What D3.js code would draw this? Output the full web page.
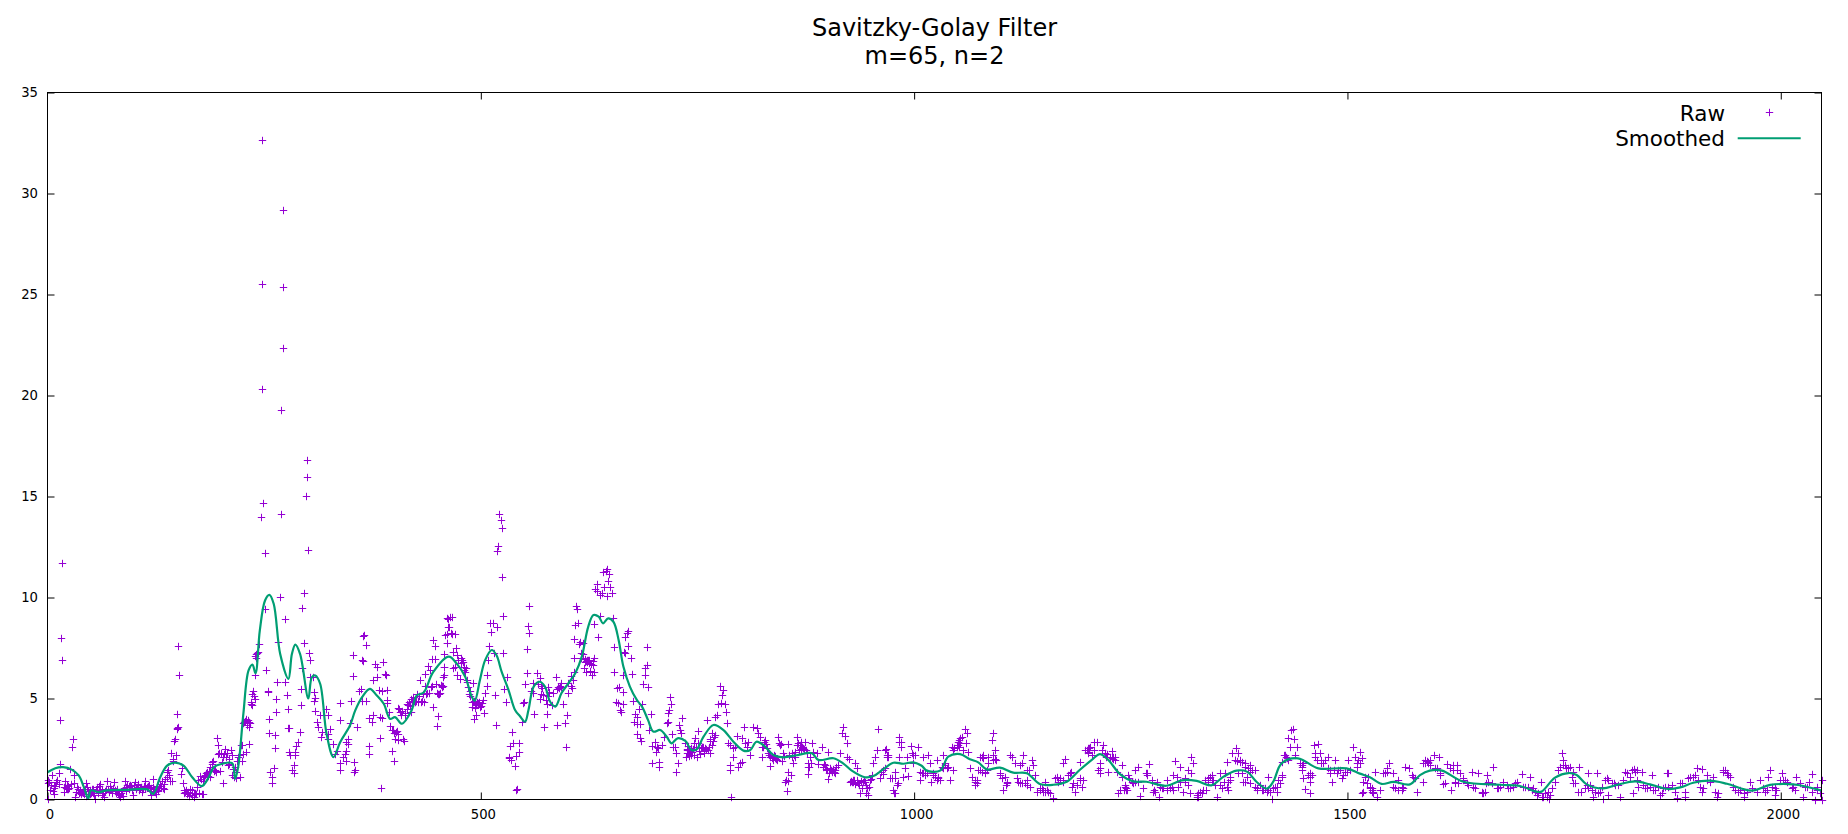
<!DOCTYPE html>
<html><head><meta charset="utf-8">
<script src="https://cdn.jsdelivr.net/npm/d3@7"></script>
<style>html,body{margin:0;padding:0;background:#fff}svg{display:block}text{font-family:"DejaVu Sans";fill:#000}</style>
</head><body><svg id="c" width="1848" height="834"></svg>
<script>
const titleLines=["Savitzky-Golay Filter","m=65, n=2"];
const seriesNames=["Raw","Smoothed"];
const xTicks=[0,500,1000,1500,2000];
const yTicks=[0,5,10,15,20,25,30,35];
const smoothed=[[0,1.35],[9,1.55],[18,1.6],[28,1.48],[36,1.19],[42,.61],[47,.05],[50,.45],[59,.36],[68,.45],[92,.48],[115,.5],[122,.28],[130,1.1],[138,1.68],[147,1.83],[157,1.68],[167,1.1],[178,.66],[186,1.1],[192,1.6],[201,1.76],[213,1.8],[216.5,1.02],[220,1.6],[226,4.24],[232,6.39],[236.5,6.68],[240,6.25],[245,8.37],[251,9.85],[256,10.13],[261,9.69],[268.5,7.2],[278,5.97],[282,7.2],[286,7.67],[291.5,7.2],[301,5],[305,6.05],[309,6.14],[314.6,5.73],[322,3.25],[330,2.1],[337.7,2.84],[349,3.66],[355,4.4],[363,5.07],[372,5.48],[380,5.15],[388,4.74],[395.4,3.99],[401,4.08],[409,3.75],[420,4.4],[426,5.15],[434,5.3],[445,6.3],[463,7.07],[472,6.74],[482,6.08],[489.5,5.09],[493,4.89],[499,5.92],[505,6.9],[512.6,7.4],[518,7.15],[524,6.33],[532,5.42],[539.5,4.43],[545,4.13],[551,3.85],[555,4.43],[561,5.59],[568,5.83],[574,5.59],[580,4.84],[586,4.6],[593,5.26],[601,5.75],[609,6.25],[616.5,7.07],[624,8.56],[630,9.13],[636,9.05],[641,8.72],[647,8.97],[653,8.8],[659,7.9],[664.5,6.58],[672,5.59],[680,4.93],[686,4.6],[693,3.93],[699,3.36],[707,3.44],[714.5,3.11],[720,2.78],[727,3.03],[736,2.9],[743,2.45],[749,2.48],[757,3.11],[768.4,3.69],[780,3.44],[791.5,2.86],[803,2.42],[811,2.45],[818,2.86],[828,2.62],[837.6,2.2],[849,2.09],[864.5,2.19],[882,2.29],[889.5,1.96],[907,2.04],[918,1.79],[928,1.43],[943,1.1],[953,1.16],[964.5,1.5],[976,1.82],[987.5,1.77],[999,1.84],[1008.7,1.67],[1014.5,1.43],[1030,1.43],[1039.4,2.12],[1053,2.25],[1064.4,1.99],[1074,1.84],[1083.7,1.49],[1099,1.58],[1114.4,1.33],[1130,1.3],[1145,.77],[1160.6,.73],[1176,.88],[1191,1.46],[1205,1.96],[1214.4,2.25],[1224,1.96],[1237.5,1.26],[1253,.9],[1268,.88],[1291,.68],[1308.7,.95],[1326,.92],[1343,.7],[1357,1.13],[1372,1.43],[1384,1.38],[1395,.88],[1407,.54],[1414.4,.88],[1424,1.79],[1443,2.04],[1466.4,1.54],[1499,1.54],[1514.4,1.28],[1526,1.1],[1539.5,.77],[1553,.87],[1572,.75],[1583.7,1.21],[1595,1.43],[1609,1.43],[1634,.88],[1676,.73],[1699,.67],[1718,.39],[1724,.39],[1739.5,1.08],[1755,1.31],[1764.5,1.21],[1776,.75],[1795,.55],[1810.6,.72],[1832,.9],[1849,.75],[1870,.52],[1884,.6],[1899,.83],[1918,.93],[1938,.78],[1966.4,.44],[1987.6,.72],[2014.5,.75],[2030,.63],[2047,.44]];
const rawPeaks=[[248,32.67],[271.5,29.16],[247,25.53],[271.5,25.35],[272,22.33],[248,20.3],[270,19.26],[299,16.8],[300,15.96],[298,15.02],[301,12.34],[249,14.67],[246,13.98],[269,14.13],[250.5,12.2],[17,11.7],[16,7.99],[17,6.9],[15,3.94],[268,10.02],[296.5,10.2],[294,9.47],[251.5,9.44],[273.5,8.93],[295.4,7.74],[244.6,7.72],[266.5,7.82],[242,7.24],[241,7.18],[241,7],[301.5,7.26],[302.7,6.9],[252.7,6.4],[239,6.14],[294,6.5],[302.7,6.06],[306,6.06],[255,5.31],[254,5.35],[237,5.35],[238,5.12],[264,4.97],[274.6,5.81],[265,5.81],[275.8,5.15],[293,5.46],[308,5.31],[309,5.02],[308,4.87],[235,4.74],[236,4.7],[292,4.67],[277,4.47],[264,4.32],[256,3.98],[229,3.99],[228,3.88],[232,3.83],[234,3.78],[226,3.78],[232,3.58],[278,3.55],[279,3.52],[256,3.28],[263,3.18],[291,3.33],[289.6,2.84],[287,2.64],[286,2.34],[286,2.18],[279,2.34],[280,2.18],[262,2.54],[232,2.74],[225,2.69],[221.5,2.18],[226,2.23],[229.6,2.34],[225,1.93],[222,1.1],[261,1.57],[257,1.35],[259.6,1.1],[258.5,.81],[285,1.73],[282.7,1.44],[284,1.3]];
const rawLow=[[0,.99],[0,.83],[0,.02],[2,.86],[3,.45],[7,.28],[5,1.19],[8,.69],[8,.55],[10,.86],[11.5,.97],[12.7,1.3],[14,1.77],[20,.94],[18.5,.36],[21.5,.58],[23.5,.53],[24,.69],[22,.7],[26,1.52],[28,2.59],[29,3],[31,1.19],[31,.81],[32,.12],[34,.64],[37,.45],[39,.28],[38,.35],[40,.38],[44.6,.81],[41.5,.36],[46,.61],[48.5,.45],[53,.53],[55,.03],[59,.69],[60.8,.78],[62.7,.2],[65,.12],[69,.94],[67.7,.53],[71.5,.36],[73,.5],[75,.33],[77,.89],[78,.45],[81,.28],[83,.3],[84,.12],[86,.4],[89.6,.94],[90.8,.61],[93.5,.69],[95,.72],[97,.55],[99,.2],[101,.86],[103,.64],[105,.7],[107,.55],[109,.36],[112.7,.94],[114.6,.61],[117,.7],[120,.2],[121.5,1.02],[122,.6],[124,.36],[126,.65],[128,.45],[132,.94],[134,.78],[135,.5],[137.7,1.35],[139.6,1.44],[143.5,.94],[142.7,2.29],[144.6,2.01],[146.5,2.89],[147,3],[149,3.55],[151,3.58],[150,3.5],[149,4.22],[151,7.59],[152,6.14],[154,1.27],[155,1.57],[156,.81],[159,.36],[161,.28],[160,.45],[164.6,.53],[166.5,.45],[168.5,.12],[170,.3],[172,.61],[176,1.14],[180,.28],[182,1.19],[184.6,1.35],[187,1.1],[189.6,1.77],[191.5,1.9],[193.5,1.44],[196,3.05],[197,2.72],[196.5,2.26],[199,1.4],[202,.81],[205,2.5],[207,2.29],[209,1.77],[211.5,2.46],[212.7,2.18],[216,1.6],[217.7,1.35],[204,2.25],[206,2.1]];
const rawLowDense=[[4,.7],[6,.4],[9,.65],[13,.75],[19,.62],[22,.5],[25,.55],[27,.75],[33,.35],[35,.5],[36,.3],[42,.25],[43,.5],[45,.15],[47,.4],[49,.25],[50,.3],[51,.5],[52,.3],[54,.2],[56,.45],[57,.6],[58,.3],[61,.45],[63,.5],[64,.3],[66,.4],[70,.5],[72,.65],[74,.4],[76,.55],[79,.3],[80,.5],[82,.2],[85,.3],[87,.15],[88,.55],[91,.4],[92,.7],[94,.5],[96,.65],[98,.45],[100,.7],[102,.5],[104,.75],[106,.45],[108,.6],[110,.5],[111,.65],[113,.55],[116,.65],[118,.4],[119,.55],[123,.5],[125,.25],[127,.4],[129,.55],[130,.75],[131,.65],[133,.55],[136,1],[138,1.1],[140,1.2],[141,.9],[145,1.9],[148,2.2],[157,.45],[158,.3],[162,.35],[163,.15],[165,.3],[167,.2],[169,.3],[171,.25],[173,.6],[174,.95],[175,.3],[177,1],[178,.25],[179,.9],[181,1.1],[183,1.3],[185,1.15],[186,1.4],[188,1.6],[190,1.85],[192,1.4],[194,1.35],[198,2.3],[200,2.3],[201,1.85],[203,2.1],[208,1.7],[210,2],[213,1.2],[214,1.5],[215,1.1],[218,1.05],[219,1.9],[220,2.1],[223,2.7],[230,3.7],[231,3.95],[233,3.8],[227,3.85],[240,7.1],[243,7.3],[236,5.2],[239,5],[235,4.85]];
const rawRise=[[337.7,4.77],[337.7,3.94],[324,4.16],[321.5,4.49],[314.6,4.16],[309,4.4],[311,3.83],[312.7,3.58],[316.5,3.33],[315.4,3.09],[326,3.5],[324,3.25],[324,3],[330,2.76],[332,2.26],[334,2.39],[337.7,1.8],[337,1.44],[345,2.39],[343.5,2.26],[341,2.1],[345,1.93],[345,2.84],[347,3],[347,2.76],[348.5,3.78],[354,1.85],[355,1.47],[354,1.35],[357,3.58],[350,4.87],[353,6.09],[352,7.13],[363,6.91],[363.5,6.85],[364.6,8.07],[365.4,8.12],[367,7.67],[361.5,5.48],[359,5.36],[362.7,4.9],[368,4.87],[371.5,4.04],[374,3.83],[370.4,2.66],[370.4,2.23],[376,4.2],[378,6.72],[380,6.55],[376,5.92],[380,6.06],[387.7,6.8],[389.6,6.22],[390.4,6.14],[382,5.4],[385.8,5.36],[391.5,5.43],[391.5,4.93],[391.5,4.77],[393.5,4.32],[383.8,4.08],[386.5,4.04],[383.8,3.04],[384.6,.56],[395.4,3.66],[397,3.42],[399,3.45],[398,2.39],[400,1.93],[401,3],[405,3.25],[411,2.92],[405,4.54],[407,4.32],[414.6,4.49],[412.7,4.16],[420,4.32],[418.5,4.65],[422,5.07],[426,5.23],[432,4.9],[434,4.82],[430,5.92],[435.8,5.64],[439.6,6.6],[441.5,6.39],[443.5,6.96],[447,6.96],[445,4.57],[449,3.66],[450.4,4.12],[445,7.9],[446.6,7.59],[451,5.23],[455,5.64],[453,5.26],[457,6.14],[458,6.55],[460.8,7.74],[460.8,8.17],[462.7,8.53],[466.5,8.2],[462.7,8.94],[466.5,9.03],[467.7,7.29],[470,6.55],[473,6.14],[473,7.13],[464.5,9.05],[461.5,8.97],[463.8,8.56],[466,8.23],[459,8.14],[460.7,7.73],[457.6,7.2],[467.6,7.29],[476.8,6.99],[479,6.82],[480.7,6.41],[483,6.49],[468.4,6.49],[472,6.16],[476,5.95],[458,6.54],[456.8,6.08],[455,5.62]];
const rawRiseDense=[[400,3.3],[402,3.35],[403,3.4],[404,2.95],[406,4.5],[408,4.2],[409,4.4],[410,3],[413,4.3],[415,4.75],[416,4.7],[417,4.85],[419,5],[421,4.9],[423,4.9],[424,4.85],[425,4.88],[427,4.9],[428,4.85],[429,5.1],[431,4.85],[433,5.2],[436,6.2],[437,5.2],[438,5.25],[440,5.25],[442,5.55],[444,5.6],[448,5.7],[450,5.25],[452,5.2],[470,8.2],[471,7.5],[474,6.9],[477,6.75],[478,6.9],[481,6.55],[482,6.3],[484,5.9],[486,5.2],[487,5.35],[488,5.1],[491,4.85],[492,4.9],[493,4.55],[494,4.7],[495,4.75],[496,4.85],[500,4.65],[454,5.65],[455,5.55],[456,5.6]];
const rawMiddle=[[483.8,5.83],[485.7,5.59],[491.5,5.78],[489.5,4.84],[490,4.6],[497,4.76],[499,4.6],[501,4.79],[503,4.93],[498,4.85],[495,4.18],[492.6,3.97],[504,4.27],[505,5.26],[507,5.62],[507.6,6.16],[508.8,6.9],[510,7.6],[510.7,8.72],[511.5,8.31],[513.8,8.75],[518.4,8.56],[515.7,7.27],[526,7.27],[530,6.08],[527,5.45],[516.8,5.17],[529,4.81],[517.6,3.67],[521.5,14.13],[523,13.84],[524,13.42],[520.3,12.57],[519,12.32],[525,11],[526,9.08],[556,9.58],[555,8.59],[556,8.26],[553.8,7.43],[553,6.25],[551,5.72],[560.7,5.75],[564.5,6.25],[568.4,6],[566.5,5.72],[557.6,5.39],[560.7,5.26],[568.4,5],[572,5.17],[577,5.59],[576,4.73],[582,4.68],[583.8,5.26],[586.8,6.08],[589.5,5.59],[593,5.75],[594.5,4.73],[601,5.75],[603.8,6.11],[606.8,5.92],[605,5.5],[601,5.26],[550,4.84],[548.4,4.79],[561.8,4.22],[576,4.22],[547,3.85],[573.4,3.6],[587.6,3.67],[597,3.77],[600,4.18],[598.4,2.58],[536.5,3.33],[537.6,2.78],[544.5,2.78],[533.8,2.65],[544,2.37],[540.7,2.15],[532,2.12],[534.5,1.96],[533,2.05],[540,1.67],[541.5,.52],[540.7,.47],[610,9.58],[611.5,9.41],[608.8,8.64],[612.6,8.72],[608,7.93],[614.5,7.78],[617.6,7.76],[615.3,7.27],[608,7.02],[618.4,7.2],[620.3,6.82],[624,6.91],[631,6.99],[622,6.91],[625.3,6.74],[629,6.66],[621.5,6.33],[626,6.38],[630.7,6.33],[628,6.16],[635.7,8.03],[631,8.67],[637.6,9.08],[653,8.97],[633.8,10.67],[631.8,10.42],[633.8,10.34],[641.5,11.28],[644,11.33],[646,11.39],[648.4,11.16],[647,10.83],[642,10.53],[649,10.5],[640.3,10.21],[637.6,10.12],[645.3,10.07],[651,10.2],[620,6.95],[621,6.85],[623,6.8],[625,6.9],[627,6.7],[629,6.85],[613,7.7],[616,7],[619,6.5],[604,5.6],[607,6.3],[590,5.5],[591,5.6],[592,5.55],[588,5.45],[570,5.6],[571,5.5],[569,5.2],[578,5.1],[579,5.3],[575,4.95]];
const rawFall=[[654,7.57],[670.3,8.36],[668.4,8.26],[666.5,8.06],[670.3,7.62],[665.7,7.3],[666.5,7.24],[673,7.02],[663.8,6.16],[654,6.3],[674,6.21],[656.8,5.5],[659,5.59],[663.8,5.34],[656,4.84],[658.8,4.76],[663.8,4.73],[660.7,4.43],[661.8,4.35],[676,4.88],[682.6,4.46],[678,4.22],[680,4.1],[676.8,3.85],[680,3.72],[683.8,3.72],[680.7,3.24],[683.8,3.03],[685,2.91],[691.5,7.53],[692,6.66],[690,6.49],[689.5,6.16],[687.6,5.72],[693.4,5.55],[686.5,4.73],[696,4.22],[694.5,3.44],[697,2.65],[701,2.86],[703,2.62],[705,2.53],[708.8,2.7],[702,2.37],[698,1.79],[706,1.87],[706,1.59],[711.5,3.11],[714.5,3.77],[715.7,3.85],[718.4,5.06],[720,4.73],[717,4.43],[716.5,4.27],[721,3.24],[722,2.62],[724,2.62],[725,2.29],[727,1.79],[725,1.35],[732,4.02],[728.8,3.69],[730,3.44],[730.7,3.28],[735.7,2.78],[737.6,2.45],[739.5,2.29],[740.7,2.15],[736.8,2.12],[738,2.3],[747,3.03],[746,2.78],[751,3.41],[751,2.78],[749,2.12],[755,2.62],[759,2.53],[760.7,3.93],[757,2.29],[764.5,2.32],[766.5,3.28],[770.3,3.19],[766.5,2.7],[770.7,4.1],[772,4.18],[774,4.73],[776,5.63],[780,5.42],[778,5.17],[777,4.79],[782,4.73],[783,4.31],[783.8,3.77],[788.4,.14],[785.7,2.78],[787.6,2.7],[791.5,2.53],[793.4,2.62],[791.5,2.12],[787.6,1.71],[787.6,1.46],[797,1.63],[799,1.79],[801,1.87],[795.3,3.14],[801.8,3.03],[805,2.78],[807,2.62],[808.8,2.86],[803.8,3.57],[813.8,3.6],[818.4,3.52],[820,3.28],[822,3.11],[810.7,2.2],[824,2.62],[828,2.94],[825,2.12],[832,2.2],[835.7,2.04],[839.5,2.04],[833.8,1.66],[843.4,3.11],[845,2.7],[855,2.75],[851,.88],[853,.44],[855,1.38],[857.6,1.21],[858.8,2.29],[860.7,1.79],[865,3.08],[864.5,2.7],[870,2.86],[872,2.53],[874,2.86],[882,2.78],[878,1.79],[878,1.25],[883.8,2.37],[887.6,2.29],[893.4,2.62],[889.5,1.74],[897,1.71],[901,2.37],[900.3,1],[905,1.38],[908.8,1.46],[912.6,1.71],[916.5,3.28],[918.4,3.57],[920,3.14],[922,2.78],[914.5,2.29],[922,2.12],[925,1.99],[932,1.79],[933.8,1.54],[926,.88],[930,.88],[933.8,.97],[938,.31],[943.4,.88],[945,.31],[947,.22],[953,1.79],[955,2.12],[957,2.45],[958,3.47],[960.7,1.05],[964.5,1.46],[968.4,2.12],[967.6,2.48],[970.3,2.2],[974,1.05],[976,.47],[978,.31],[982,3.11],[983,2.86],[982,2.12],[980.7,.72]];
const rawFallDense=[[738,2.5],[739,2.65],[741,2.4],[742,2.55],[743,2.2],[744,2.35],[745,2.5],[746,2.2],[748,2.6],[752,2.4],[753,2.25],[754,2.55],[756,2.6],[758,2.4],[760,2.5],[762,2.45],[763,2.6],[764,2.9],[765,3],[768,2.9],[769,3.1],[826,2.6],[827,2.85],[829,2.75],[830,2.55],[831,2.3],[834,2.1],[836,2.15],[837,1.95],[838,2.2],[840,2.15],[841,2],[842,1.95],[844,2.8],[846,2.75],[847,1.9],[849,2.3],[850,2.15],[852,.95],[854,.9],[856,2.2],[859,2.1],[861,2.2],[862,2.1],[863,2.35],[866,2.8],[867,2.45],[868,2.7],[869,2.5],[871,2.6],[873,2.5],[875,2.45],[876,2.3],[877,1.6],[879,1.6],[880,2.1],[881,1.8],[895,1.6],[896,1.75],[898,1.5],[899,1.45],[902,1.3],[903,1.55],[904,1.45],[906,1.5],[907,1.35],[909,1.3],[910,1.6],[927,.9],[928,.85],[929,.95],[931,.95],[932,.75],[935,.8],[936,.7],[939,.9],[940,.55],[941,.85],[942,.95],[944,.7],[946,.55],[948,.6],[949,.95],[950,1],[951,1.2]];
const rawTailA=[[984.4,2.86],[984.4,2.62],[996,2.65],[1005,2.62],[969,2.2],[966.4,2.45],[991.4,2.12],[997,2.29],[1001,2.2],[1016.4,2.2],[1010.6,2.12],[1026,1.96],[1033.7,2.2],[1035.6,1.79],[1032,1.63],[1039.4,1.63],[1018.3,1.79],[989.4,1.54],[978,1.38],[1006.7,1.38],[1010.6,1.3],[966.4,1.54],[972,1.05],[978,1.05],[981.8,.8],[976.8,.31],[987.5,1.13],[993.3,1.16],[1006.7,.97],[1012.5,1.3],[1020,.88],[1022,1.21],[1028,1.05],[1041.4,.97],[1044.4,1.46],[1043.3,2.62],[1045,2.45],[1049,2.7],[1051,2.86],[1053,3.03],[1052,2.62],[1058.7,3.47],[1060.6,3.28],[1060,2.78],[1062.5,2.37],[1078,2.12],[1080,2.2],[1064.4,1.54],[1066.4,1.13],[1072,.97],[1070,.72],[1076,1.46],[1081.7,1.38],[1085.6,2.12],[1089.4,2.95],[1091.4,3.28],[1093.3,2.45],[1091.4,2.2],[1095,1.96],[1085.6,1.79],[1099,1.3],[1105,1.13],[1103,.47],[1106.8,.8],[1110.6,2.2],[1112.5,2.12],[1116.4,1.79],[1124,1.79],[1126,2.2],[1118.3,1.05],[1122,.8],[1130,.72],[1130,1.46],[1135.6,1.96],[1137.5,1.71],[1139.4,1.21],[1141.4,.39],[1145,.55],[1149,.39],[1151,.88],[1155,.39],[1160,.06],[1164.4,1.13],[1168.3,.97],[1172,.88],[1174,1.99],[1172,1.79],[1178,1.21],[1180.6,1.38],[1182,.64],[1185.6,.39],[1191.4,1.87],[1191.4,.97],[1195,.97],[1193.3,.64],[1197,2.45],[1201,2.53],[1203,2.62],[1207,2.86],[1210.6,2.86],[1205,2.2],[1201,2.29],[1218.3,2.7],[1216.4,2.45],[1228,2.42],[1222,2.25],[1230,2.12],[1231.8,1.96],[1214.4,1.54],[1214.4,1.3],[1224,1.38],[1239.4,1.71],[1233.7,1.38],[1239.4,1.13],[1247,1.21],[1237.5,.47],[1235.6,.31],[1243.3,.64],[1245,.47]];
const rawTailADense=[[962,1.38],[963.7,1.26],[970,2.12],[974,1.05],[999,2.2],[999,1.79],[1008.7,1.3],[1012.5,1.21],[1014.5,1.3],[1022,1.3],[1024,1.13],[1028,1.13],[1030,.97],[1026,.97],[1035.6,1.71],[1033.7,1.54],[1037.5,1.54],[1046,2.53],[1050,2.62],[1051,2.7],[1053,2.78],[1052,2.95],[1055,3.11],[1056.7,2.45],[1070,.88],[1072,.8],[1070,.97],[1074,1.46],[1078,1.38],[1081.7,1.3],[1083.7,1.46],[1076,2.12],[1080,2.04],[1093.3,1.99],[1091.4,1.96],[1099,1.21],[1101,1.05],[1106.8,.88],[1106,.72],[1120,.88],[1124,.8],[1128,.8],[1130,.97],[1122,1.71],[1132,1.46],[1133.7,.64],[1145,.47],[1147,.55],[1149,.47],[1151,.39],[1153,.47],[1157,.31],[1162.5,1.05],[1166.4,.88],[1168.3,1.05],[1171.4,.97],[1180,1.3],[1183.7,.8],[1187.5,.72],[1191.4,1.05],[1199,2.45],[1201,2.37],[1202,2.53],[1207,2.45],[1212.5,1.46],[1214.4,1.79],[1220,2.29],[1221.4,2.12],[1226,2.12],[1230,1.99],[1232,2.12],[1228,2.04],[1243.3,.72],[1244.4,.55],[1246,.47],[1242,.47],[1248.3,1.05],[1251,.88],[1255,.88],[1258.7,.88]];
const rawTailB=[[1255,1.46],[1258.7,1.63],[1253,.8],[1260.6,.19],[1264.4,.55],[1268.3,1.3],[1271.4,1.76],[1274,.97],[1276,.39],[1280,.88],[1283,.14],[1285.6,.55],[1291.4,.97],[1295,.55],[1301,1.9],[1299,1.21],[1303,1.13],[1307,1.63],[1312.5,1.05],[1310.6,.39],[1318.3,.31],[1316.4,1.46],[1320,2.12],[1322,1.79],[1320,1.3],[1326,.14],[1328,.31],[1333.7,.47],[1339.4,1.05],[1343.3,1.21],[1345,.97],[1350,.14],[1353,1.3],[1355,.55],[1358.7,1.3],[1362.5,.47],[1364.4,.97],[1360.6,1.87],[1366.4,2.29],[1371,2.53],[1374,2.29],[1370,1.96],[1376,1.96],[1381.7,1.79],[1387.5,1.71],[1393.3,1.46],[1374,1.3],[1380,.88],[1387.5,.8],[1395.2,.55],[1401,.47],[1408.7,1.13],[1408.7,.47],[1412.5,.03],[1416.4,.64],[1418.3,.39],[1424,1.21],[1422,.8],[1424,1.87],[1428,2.2],[1430.6,2.04],[1431.7,3.03],[1434.4,3.44],[1437.5,3.47],[1438.3,2.98],[1433.7,2.62],[1441.4,2.62],[1439.4,2.2],[1447,1.71],[1447,1.46],[1449,1.05],[1451,.5],[1456.8,1.3],[1456.8,.31],[1456.8,.88],[1462.5,2.12],[1461.7,2.7],[1465.6,2.73],[1468.3,2.29],[1470,1.79],[1478,2.12],[1474,1.96],[1485.6,1.96],[1480,1.3],[1481.8,.88],[1493.3,1.05],[1501,1.96],[1506,2.62],[1508.7,2.12],[1514.4,2.37],[1514.4,1.79],[1510.6,1.79],[1497,1.38],[1489.4,1.46],[1518.3,.88],[1518.3,.39],[1524,1.13],[1528,.55],[1530,.31],[1533.7,.14]];
const rawTailBDense=[[1267.5,1.3],[1268.3,1.21],[1274,.88],[1277,.47],[1278,.39],[1283.7,.64],[1287.5,.55],[1291.4,.47],[1297,.64],[1299,.47],[1305,.64],[1307,.88],[1312.5,.88],[1316.4,.72],[1326,.22],[1328,.14],[1330,.39],[1332,.31],[1335.6,.97],[1337,.47],[1341,1.13],[1343.3,.97],[1339.4,.88],[1347,.72],[1353,.72],[1357,.88],[1360.6,.64],[1362.5,.88],[1364.4,1.13],[1370,1.96],[1372,1.92],[1376,1.87],[1378,1.87],[1381.7,1.63],[1385.6,1.54],[1387.5,1.38],[1389.5,1.46],[1378,1.3],[1381.7,.88],[1383.7,1.13],[1393.3,.64],[1395.2,.47],[1399,.72],[1403,.47],[1405,.55],[1406.8,.39],[1410.6,.39],[1414.4,.55],[1418.3,.64],[1420,.97],[1424,1.13],[1426.8,2.2],[1429,2.12],[1431.7,1.96],[1445,1.79],[1447,1.63],[1449,1.79],[1456.8,1.13],[1455,1.21],[1458.7,1.21],[1462.5,2.29],[1464.4,1.96],[1470,1.96],[1472,1.79],[1478,1.54],[1480,1.46],[1484,1.46],[1487.5,1.3],[1491.4,1.46],[1495.2,1.21],[1503,1.46],[1499,1.38],[1510.6,1.63],[1512.5,1.96],[1520,1.13],[1526,.55],[1528,.39]];
const rawTailC=[[1516.4,2.04],[1522,.8],[1516.4,.34],[1526,.64],[1531.8,1.38],[1537.6,.47],[1543.3,1.3],[1545.3,1.54],[1548.3,1.79],[1552,1.33],[1553,.64],[1558.7,.97],[1562.6,.47],[1566.4,1.63],[1571,1.54],[1574,1.21],[1578,1.05],[1580,.39],[1587.6,.88],[1587.6,1.79],[1593.4,1.87],[1600,2.2],[1606,2.09],[1595,1.96],[1603,1.54],[1607,1.21],[1614.5,1.76],[1610.7,.77],[1618.3,1.54],[1626,1.71],[1622,1.46],[1620,.47],[1630,1.29],[1624,.8],[1633.7,1.05],[1637.6,.8],[1643.3,1.38],[1651,1.3],[1647,.55],[1655,.31],[1660.7,1.21],[1668.3,1.59],[1662.6,.88],[1674,.55],[1680,.88],[1687.6,.55],[1701,1.26],[1710.7,1.1],[1695.3,.88],[1705,.64],[1714.5,.55],[1723,.88],[1718.3,.22],[1726,.14],[1732,.01],[1735.7,.55],[1739.5,.88],[1747,2.29],[1748.4,1.96],[1745,1.63],[1751,1.71],[1755,1.54],[1760.7,1.38],[1767.6,1.59],[1758.7,1.13],[1762.6,.83],[1770,.39],[1774,.55],[1778,1.3],[1787.6,1.3],[1780,.72],[1783.7,.11],[1789.5,.31],[1794.5,.03],[1799,1.05],[1801,.22],[1807,.8],[1814.5,.14],[1820,1.34],[1826,1.13],[1830,.31],[1830.7,1.49],[1839.5,1.38],[1833.7,.97],[1843.4,.55],[1851,1.21],[1853,.47],[1860.7,.22],[1868.3,1.3],[1870,1.33],[1866.4,.64],[1880,.06],[1884,.8],[1889.5,.14],[1893.3,1.05],[1903,1.54],[1909,1.49],[1899,1.13],[1909,.39],[1914.5,1.21],[1922,1.13],[1924,.39],[1933.7,1.46],[1939.5,1.21],[1945.3,.64],[1953,.47],[1964.5,.88],[1957,.14],[1976,.97],[1987,1.46],[1985.6,1.13],[1982,.39],[2001,1.3],[2003,.97],[1995,.47],[1993,.22],[2018,1.13],[2014.5,.64],[2026,.14],[2035.6,1.26],[2030,.64],[2047,.97],[2039.5,0],[2047,0],[2041.4,.47]];
const rawTailCDense=[[1541.4,1.3],[1545.3,1.38],[1528,.47],[1530,.39],[1555,.55],[1558.7,.47],[1562.6,.64],[1564.5,.55],[1576,1.13],[1589.5,1.79],[1591.4,1.9],[1593.4,1.79],[1595.3,1.71],[1589.5,1.96],[1601,1.54],[1607,1.3],[1612.6,.8],[1622,1.71],[1626,1.46],[1624,.88],[1628,.8],[1633.7,.97],[1639.5,.72],[1645.3,.64],[1655,.39],[1656.8,.31],[1658.7,.39],[1660,.8],[1666.4,.8],[1672.2,.55],[1676,.64],[1680,.77],[1683.7,.72],[1685.6,.55],[1691.4,.64],[1693.3,.8],[1703,.64],[1708.7,.64],[1712.6,.47],[1716.4,.39],[1720.3,.31],[1724,.14],[1728,.31],[1730,.14],[1731.8,.39],[1733.7,.22],[1743.3,1.46],[1749,1.71],[1752,1.54],[1756.8,1.63],[1760.7,.8],[1766.4,.39],[1776,.72],[1778,.55],[1781.8,.47],[1785.6,.39],[1791.4,.39],[1793.3,.64],[1797,.97],[1801,.97],[1805,.8],[1808.7,.72],[1812.6,.72],[1818.3,.97],[1822,1.3],[1828,1.46],[1832,1.38],[1833.7,1.46],[1835.6,.64],[1841.4,.72],[1845.3,.55],[1849,.64],[1855,.47],[1858.7,.64],[1862.6,.31],[1864.5,.55],[1870,.64],[1874,.72],[1878,.39],[1885.6,.8],[1889.5,.39],[1895.3,1.13],[1901,1.21],[1905,.97],[1907,.64],[1910.7,.55],[1914.5,.97],[1918.3,.88],[1928,.31],[1926,.14],[1933.7,1.38],[1935.6,1.46],[1937.6,1.3],[1941.4,1.13],[1947.2,.47],[1951,.39],[1957,.31],[1960.7,.39],[1966.4,.55],[1972,.39],[1980,.55],[1983.7,.47],[1989.5,.64],[1993.3,.55],[1999,.97],[2005,.97],[2006.8,.88],[2012.6,.55],[2016.4,.47],[2022,.8],[2028,.64],[2032,.88],[2035.6,.39],[2041.4,.64],[2045.2,.31]];
const raw=[...rawPeaks,...rawLow,...rawLowDense,...rawRise,...rawRiseDense,...rawMiddle,...rawFall,...rawFallDense,...rawTailA,...rawTailADense,...rawTailB,...rawTailBDense,...rawTailC,...rawTailCDense];

const L=47.5,R=1821.5,T=92.5,B=799.5;
const x=d3.scaleLinear().domain([0,2047]).range([L,R]);
const y=d3.scaleLinear().domain([0,35]).range([B,T]);
const svg=d3.select("#c");
const plus="M-3.7,0H3.7M0,-3.7V3.7";

const ax=svg.append("g").attr("transform",`translate(0,${B})`).call(d3.axisBottom(x).tickValues(xTicks).tickSizeInner(-7).tickSizeOuter(0).tickPadding(10).tickFormat(d3.format("d")));
const axTop=svg.append("g").attr("transform",`translate(0,${T})`).call(d3.axisTop(x).tickValues(xTicks.slice(1)).tickSizeInner(-7).tickSizeOuter(0).tickFormat(""));
const ay=svg.append("g").attr("transform",`translate(${L},0)`).call(d3.axisLeft(y).tickValues(yTicks).tickSizeInner(-7).tickSizeOuter(0).tickPadding(9.5));
const ayR=svg.append("g").attr("transform",`translate(${R},0)`).call(d3.axisRight(y).tickValues(yTicks).tickSizeInner(-7).tickSizeOuter(0).tickFormat(""));
[ax,axTop,ay,ayR].forEach(g=>{g.select(".domain").remove();g.selectAll("line").attr("stroke","#000").attr("stroke-width",1);g.selectAll("text").attr("font-family","DejaVu Sans").attr("font-size",13.2).attr("fill","#000");});
ax.selectAll("text").attr("dx",2);

svg.append("g").selectAll("path").data(raw).join("path")
 .attr("transform",d=>`translate(${Math.round(x(d[0]))+.5},${Math.round(y(d[1]))+.5})`)
 .attr("d",plus).attr("fill","none").attr("stroke","#9400d3").attr("stroke-width",1);

svg.append("path").datum(smoothed)
 .attr("d",d3.line().x(d=>x(d[0])).y(d=>y(d[1])).curve(d3.curveCatmullRom.alpha(.5)))
 .attr("fill","none").attr("stroke","#009e73").attr("stroke-width",2.2);

svg.append("rect").attr("x",L).attr("y",T).attr("width",R-L).attr("height",B-T).attr("fill","none").attr("stroke","#000").attr("stroke-width",1);

const title=svg.append("g").attr("text-anchor","middle").attr("font-size",24);
title.selectAll("text").data(titleLines).join("text").attr("x",(L+R)/2).attr("y",(d,i)=>36+i*28).text(d=>d);

const legend=svg.append("g").attr("font-size",21.5).attr("text-anchor","end");
legend.selectAll("text").data(seriesNames).join("text").attr("x",1725).attr("y",(d,i)=>120.5+i*25.5).text(d=>d);
legend.append("path").attr("transform","translate(1769.5,112.5)").attr("d",plus).attr("fill","none").attr("stroke","#9400d3");
legend.append("line").attr("x1",1737.7).attr("x2",1800.7).attr("y1",138.3).attr("y2",138.3).attr("stroke","#009e73").attr("stroke-width",2);
</script></body></html>
